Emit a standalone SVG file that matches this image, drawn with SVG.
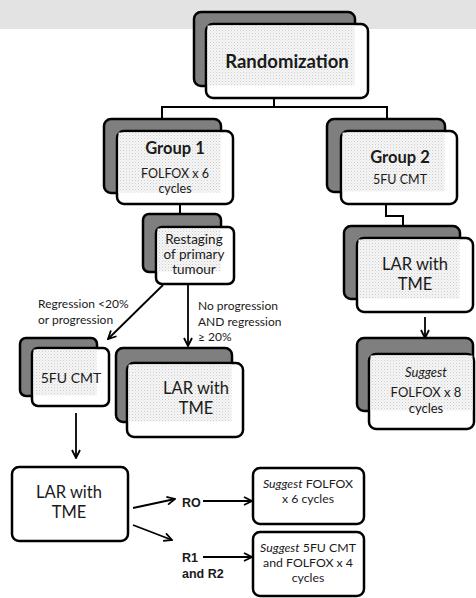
<svg xmlns="http://www.w3.org/2000/svg" width="476" height="598" viewBox="0 0 476 598">
<defs>
<pattern id="dots" width="3" height="3" patternUnits="userSpaceOnUse">
<rect width="3" height="3" fill="#f6f6f6"/>
<rect x="0" y="0" width="1" height="1" fill="#cccccc"/>
<rect x="1.5" y="1.5" width="1" height="1" fill="#dcdcdc"/>
</pattern>
<marker id="arr" viewBox="0 0 10 10" refX="9" refY="5" markerWidth="10" markerHeight="10" markerUnits="userSpaceOnUse" orient="auto">
<path d="M1,1 L9,5 L1,9" fill="none" stroke="#000" stroke-width="1.8"/>
</marker>
<style>
.back{fill:#7f7f7f;stroke:#000;stroke-width:2.5}
.front{fill:#fff;stroke:#000;stroke-width:2.5}
.stip{fill:url(#dots)}
.box{fill:#fff;stroke:#000;stroke-width:2.5}
.c{fill:none;stroke:#000;stroke-width:2}
.a{fill:none;stroke:#000;stroke-width:1.8;marker-end:url(#arr)}
text{font-family:Lato,"Open Sans","Liberation Sans",sans-serif;fill:#1a1a1a}
.m{text-anchor:middle}
.b{font-weight:bold}
.ar{font-family:"Liberation Sans",Arial,sans-serif;font-weight:bold;font-size:12.5px}
</style>
</defs>
<rect x="0" y="0" width="476" height="29" fill="#e3e3e3"/>
<g id="connectors">
<path class="c" d="M274,98 V107 M162,107 H387 M162,106 V119 M387,106 V119"/>
<path class="c" d="M180,204 V214"/>
<path class="c" d="M386,204 V216 H403 V226"/>
<path class="a" d="M163,285 L108,339"/>
<path class="a" d="M188,284 V346"/>
<path class="a" d="M76,413 V458"/>
<path class="a" d="M425,317 V338"/>
<path class="a" d="M133,508 L175,499"/>
<path class="a" d="M133,525 L172,540"/>
<path class="a" d="M203,501 H252"/>
<path class="a" d="M203,557 H252"/>
</g>
<g id="randomization">
<rect class="back" x="194" y="12" width="161" height="74" rx="7"/>
<rect class="front" x="206" y="24" width="162" height="74" rx="7"/>
<rect class="stip" x="207.5" y="25.5" width="147" height="60"/>
<text class="m b" x="287" y="68" font-size="18.5">Randomization</text>
</g>
<g id="group1">
<rect class="back" x="104" y="119" width="117" height="74" rx="7"/>
<rect class="front" x="117" y="131" width="116" height="73" rx="7"/>
<rect class="stip" x="118.5" y="132.5" width="102" height="60"/>
<text class="m b" x="175" y="154" font-size="16.5">Group 1</text>
<text class="m" x="175" y="178" font-size="12.5">FOLFOX x 6</text>
<text class="m" x="175" y="193" font-size="12.5">cycles</text>
</g>
<g id="group2">
<rect class="back" x="327" y="119" width="118" height="73" rx="7"/>
<rect class="front" x="341" y="131" width="116" height="73" rx="7"/>
<rect class="stip" x="342.5" y="132.5" width="102" height="59"/>
<text class="m b" x="400" y="163" font-size="16.5">Group 2</text>
<text class="m" x="400" y="184" font-size="12.5">5FU CMT</text>
</g>
<g id="restaging">
<rect class="back" x="143" y="214" width="78" height="58" rx="6"/>
<rect class="front" x="156" y="227" width="78" height="57" rx="6"/>
<rect class="stip" x="157.5" y="228.5" width="63" height="43"/>
<text class="m" x="194" y="244" font-size="13.5">Restaging</text>
<text class="m" x="194" y="259" font-size="13.5">of primary</text>
<text class="m" x="194" y="274" font-size="13.5">tumour</text>
</g>
<g id="labels">
<text x="38" y="308" font-size="12">Regression &lt;20%</text>
<text x="38" y="324" font-size="12">or progression</text>
<text x="198" y="310" font-size="12">No progression</text>
<text x="198" y="325.5" font-size="12">AND regression</text>
<text x="198" y="341" font-size="12">≥ 20%</text>
</g>
<g id="fu-left">
<rect class="back" x="20" y="338" width="77" height="58" rx="6"/>
<rect class="front" x="32" y="348" width="77" height="58" rx="6"/>
<rect class="stip" x="33.5" y="349.5" width="63" height="46"/>
<text class="m" x="71" y="383" font-size="14">5FU CMT</text>
</g>
<g id="lar-mid">
<rect class="back" x="116" y="348" width="116" height="74" rx="7"/>
<rect class="front" x="127" y="363" width="116" height="74" rx="7"/>
<rect class="stip" x="128.5" y="364.5" width="103" height="57"/>
<text class="m" x="196" y="394" font-size="16.5">LAR with</text>
<text class="m" x="196" y="414" font-size="16.5">TME</text>
</g>
<g id="lar-g2">
<rect class="back" x="344" y="226" width="116" height="73" rx="7"/>
<rect class="front" x="357" y="238" width="116" height="74" rx="7"/>
<rect class="stip" x="358.5" y="239.5" width="101" height="59"/>
<text class="m" x="415" y="270" font-size="16.5">LAR with</text>
<text class="m" x="415" y="290" font-size="16.5">TME</text>
</g>
<g id="suggest-g2">
<rect class="back" x="357" y="338" width="116" height="73" rx="7"/>
<rect class="front" x="369" y="354" width="105" height="75" rx="7"/>
<rect class="stip" x="370.5" y="355.5" width="102" height="55"/>
<text class="m" x="426" y="377" font-size="13" font-style="italic">Suggest</text>
<text class="m" x="426" y="397" font-size="13">FOLFOX x 8</text>
<text class="m" x="426" y="413" font-size="13">cycles</text>
</g>
<g id="lar-bottom">
<rect class="box" x="12" y="467" width="116" height="74" rx="7"/>
<text class="m" x="69" y="498" font-size="16.5">LAR with</text>
<text class="m" x="69" y="518" font-size="16.5">TME</text>
</g>
<g id="r-labels">
<text class="ar" x="182" y="507">RO</text>
<text class="ar" x="182" y="562">R1</text>
<text class="ar" x="182" y="578">and R2</text>
</g>
<g id="suggest-r0">
<rect class="box" x="253" y="468" width="111" height="56" rx="7"/>
<text class="m" x="308" y="488" font-size="12.3"><tspan font-style="italic">Suggest</tspan> FOLFOX</text>
<text class="m" x="308" y="503" font-size="12.3">x 6 cycles</text>
</g>
<g id="suggest-r1">
<rect class="box" x="253" y="532" width="111" height="64" rx="7"/>
<text class="m" x="308" y="551.5" font-size="12.3"><tspan font-style="italic">Suggest</tspan> 5FU CMT</text>
<text class="m" x="308" y="566.5" font-size="12.3">and FOLFOX x 4</text>
<text class="m" x="308" y="581.5" font-size="12.3">cycles</text>
</g>
</svg>
